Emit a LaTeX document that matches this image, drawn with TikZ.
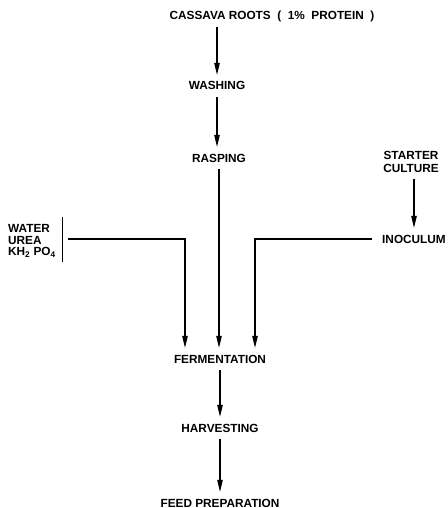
\documentclass[tikz,border=0pt]{standalone}
\usepackage{fontspec}
\setmainfont{Liberation Sans}
\usetikzlibrary{arrows.meta}
\begin{document}
\begin{tikzpicture}[x=1pt,y=-1pt,
  lab/.style={font=\bfseries\fontsize{11.8}{12}\selectfont, inner xsep=0pt, inner ysep=7pt, text height=8pt, text depth=0pt},
  arr/.style={-{Triangle[length=12pt,width=5.5pt]}, line width=1.1pt},
  ln/.style={line width=0.9pt}]
\useasboundingbox (0,0) rectangle (447,508);
\node[lab] (roots) at (272,16) {CASSAVA ROOTS \ ( \ 1\% \ PROTEIN \ )};
\node[lab] (wash) at (217,86) {WASHING};
\node[lab] (rasp) at (219,158) {RASPING};
\node[lab, align=center, inner ysep=0pt, text height=, font=\bfseries\fontsize{11.8}{12.5}\selectfont] (starter) at (411,162) {STARTER\\CULTURE};
\node[lab] (inoc) at (414,239) {INOCULUM};
\node[lab, align=left, anchor=west, inner ysep=0pt, text height=, font=\bfseries\fontsize{11.8}{11.8}\selectfont] (water) at (8,240) {WATER\\UREA\\KH\textsubscript{2} PO\textsubscript{4}};
\node[lab] (ferm) at (220,359) {FERMENTATION};
\node[lab] (harv) at (220,428) {HARVESTING};
\node[lab] (feed) at (220,503) {FEED PREPARATION};
\coordinate (bt) at (62,217);
\coordinate (bb) at (62,262);
\coordinate (wl) at (68,239);
\coordinate (ljoin) at (185,239);
\coordinate (rjoin) at (255,239);
\draw[ln] (bt) -- (bb);
\draw[arr] (wash |- roots.south) -- (wash.north);
\draw[arr] (wash.south) -- (wash |- rasp.north);
\draw[arr] (rasp.south) -- (rasp |- ferm.north);
\draw[arr] (wl) -- (ljoin) -- (ljoin |- ferm.north);
\draw[arr] ([xshift=-10pt]inoc.west) -- (rjoin) -- (rjoin |- ferm.north);
\draw[arr] ([yshift=-6pt]starter.south -| inoc) -- (inoc.north);
\draw[arr] (harv |- ferm.south) -- (harv.north);
\draw[arr] (harv.south) -- (feed.north);
\end{tikzpicture}
\end{document}
